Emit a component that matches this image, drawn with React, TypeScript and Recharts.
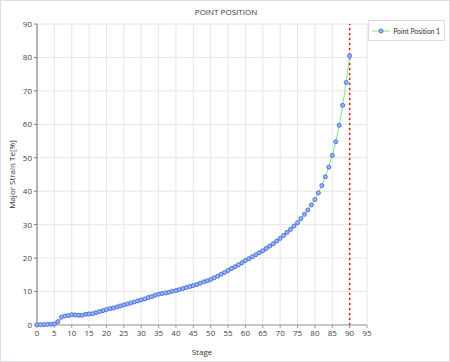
import React from "react";
import {
  LineChart,
  Line,
  XAxis,
  YAxis,
  CartesianGrid,
  ReferenceLine,
} from "recharts";

// Major strain per stage
const strain = [
  0.1, 0.1, 0.1, 0.2, 0.2, 0.3, 1.0, 2.3, 2.7, 2.8,
  3.1, 3.0, 2.9, 2.9, 3.2, 3.3, 3.4, 3.7, 4.0, 4.3,
  4.6, 4.9, 5.1, 5.4, 5.7, 6.0, 6.3, 6.6, 6.9, 7.2,
  7.5, 7.8, 8.2, 8.5, 8.9, 9.2, 9.4, 9.6, 9.8, 10.1,
  10.3, 10.6, 10.9, 11.2, 11.5, 11.8, 12.1, 12.5, 12.9, 13.2,
  13.6, 14.1, 14.6, 15.2, 15.7, 16.3, 16.9, 17.4, 18.0, 18.6,
  19.3, 19.8, 20.4, 21.0, 21.6, 22.2, 22.9, 23.6, 24.3, 25.1,
  25.9, 26.8, 27.7, 28.6, 29.6, 30.6, 31.8, 33.1, 34.4, 35.9,
  37.5, 39.5, 41.7, 44.3, 47.2, 50.7, 54.8, 59.7, 65.7, 72.5,
  80.5,
];

const xTicks = [0, 5, 10, 15, 20, 25, 30, 35, 40, 45, 50, 55, 60, 65, 70, 75, 80, 85, 90, 95];
const yTicks = [0, 10, 20, 30, 40, 50, 60, 70, 80, 90];
const limitStage = 90;

const data = strain.map((v, i) => ({ stage: i, value: v }));

const FONT = "'Open Sans', 'DejaVu Sans', sans-serif";

const LegendBox = () => (
  <div
    style={{
      position: "absolute",
      right: 4,
      top: 19,
      height: 21,
      boxSizing: "border-box",
      border: "1px solid #dcdcdc",
      background: "#fff",
      padding: "0 4px 0 3px",
      display: "flex",
      alignItems: "center",
      fontFamily: "Lato, 'Liberation Sans', sans-serif",
      fontSize: 7,
      letterSpacing: -0.1,
      color: "#333",
      whiteSpace: "nowrap",
    }}
  >
    <svg width={18} height={8} style={{ marginRight: 3, flexShrink: 0 }}>
      <line x1={0} y1={4} x2={18} y2={4} stroke="#7ee87e" strokeWidth={1} />
      <circle cx={9} cy={4} r={2} fill="#9db5f5" stroke="#4a72e0" strokeWidth={1} />
    </svg>
    Point Position 1
  </div>
);

export default function App() {
  return (
    <div
      style={{
        position: "absolute",
        left: 0,
        top: 0,
        width: 450,
        height: 362,
        boxSizing: "border-box",
        border: "1px solid #dcdce8",
        background: "#fff",
        fontFamily: FONT,
      }}
    >
      <div
        style={{
          position: "absolute",
          top: 5,
          left: 0,
          width: 450,
          textAlign: "center",
          fontSize: 8,
          color: "#333",
        }}
      >
        POINT POSITION
      </div>
      <LineChart
        width={448}
        height={360}
        data={data}
        margin={{ top: 23, right: 82, left: 6, bottom: 6 }}
        style={{ position: "absolute", left: 0, top: 0 }}
      >
        <CartesianGrid stroke="#e6e6e6" strokeWidth={1} />
        <XAxis
          dataKey="stage"
          type="number"
          domain={[0, 95]}
          ticks={xTicks}
          interval={0}
          height={30}
          tickSize={3}
          stroke="#999"
          tick={{ fill: "#404040", fontSize: 8, fontFamily: FONT }}
          label={{
            value: "Stage",
            position: "insideBottom",
            offset: 0,
            style: { fill: "#333", fontSize: 8, fontFamily: FONT },
          }}
        />
        <YAxis
          type="number"
          domain={[0, 90]}
          ticks={yTicks}
          interval={0}
          width={30}
          tickSize={3}
          stroke="#777"
          tick={{ fill: "#404040", fontSize: 8, fontFamily: FONT }}
          label={{
            value: "Major Strain Te[%]",
            angle: -90,
            position: "insideLeft",
            offset: 5,
            style: { textAnchor: "middle", fill: "#333", fontSize: 8, fontFamily: FONT },
          }}
        />
        <ReferenceLine
          x={limitStage}
          stroke="#ff0000"
          strokeWidth={1.5}
          strokeDasharray="2 3"
        />
        <Line
          dataKey="value"
          stroke="#7ee87e"
          strokeWidth={1}
          dot={{ r: 2, fill: "#9db5f5", stroke: "#4a72e0", strokeWidth: 1 }}
          isAnimationActive={false}
        />
      </LineChart>
      <LegendBox />
    </div>
  );
}
